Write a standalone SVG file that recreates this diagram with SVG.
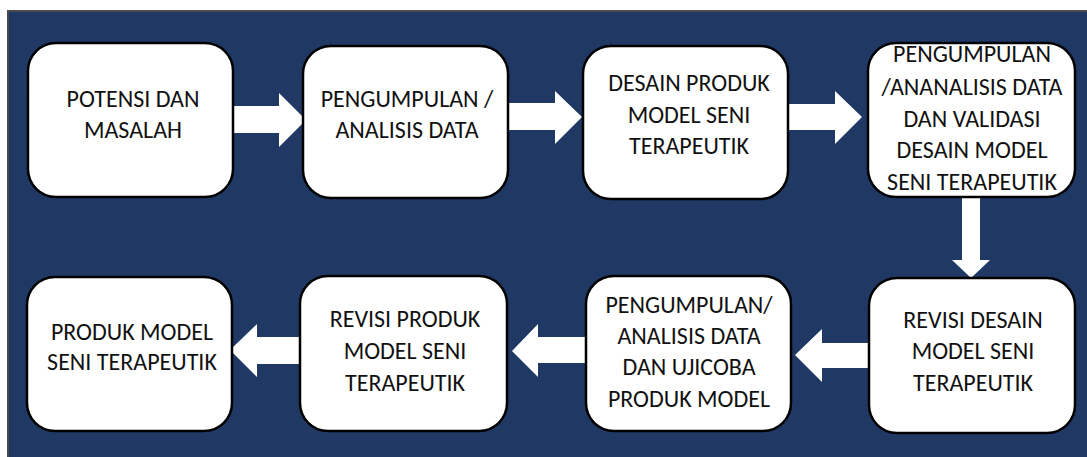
<svg xmlns="http://www.w3.org/2000/svg" width="1087" height="457" viewBox="0 0 1087 457">
<style>
.box{fill:#ffffff;stroke:#000000;stroke-width:2.5}
.arr{fill:#ffffff}
.t{font-family:Carlito,Lato,"Liberation Sans",sans-serif;font-size:24px;fill:#111111;text-anchor:middle}
</style>
<rect x="0" y="0" width="1087" height="457" fill="#ffffff"/>
<rect x="8" y="11" width="1085" height="452" fill="#1f3864" stroke="#4a4a4a" stroke-width="2"/>
<g id="connectors">
<polygon class="arr" points="233,106 279,106 279,93 306,120 279,147 279,133 233,133"/>
<polygon class="arr" points="508,103 555,103 555,91 582,117 555,144 555,130 508,130"/>
<polygon class="arr" points="788,104 835,104 835,91 862,117 835,144 835,130 788,130"/>
<polygon class="arr" points="962,197 980,197 980,260 990,260 971,278 952,260 962,260"/>
<polygon class="arr" points="869,343 822,343 822,329 795,355 822,382 822,368 869,368"/>
<polygon class="arr" points="586,337 538,337 538,324 512,351 538,377 538,363 586,363"/>
<polygon class="arr" points="300,337 257,337 257,324 230,350 257,377 257,364 300,364"/>
</g>
<g id="n1">
<rect class="box" x="28" y="43" width="205" height="154" rx="28"/>
<text class="t" x="133" y="107">POTENSI DAN</text>
<text class="t" x="133" y="138">MASALAH</text>
</g>
<g id="n2">
<rect class="box" x="303" y="46" width="205" height="152" rx="28"/>
<text class="t" x="407" y="107">PENGUMPULAN /</text>
<text class="t" x="407" y="138">ANALISIS DATA</text>
</g>
<g id="n3">
<rect class="box" x="583" y="46" width="205" height="153" rx="28"/>
<text class="t" x="689" y="91">DESAIN PRODUK</text>
<text class="t" x="689" y="123">MODEL SENI</text>
<text class="t" x="689" y="154">TERAPEUTIK</text>
</g>
<g id="n4">
<rect class="box" x="868" y="43" width="207" height="154" rx="28"/>
<text class="t" x="972" y="62">PENGUMPULAN</text>
<text class="t" x="972" y="95">/ANANALISIS DATA</text>
<text class="t" x="972" y="127">DAN VALIDASI</text>
<text class="t" x="972" y="158">DESAIN MODEL</text>
<text class="t" x="972" y="190">SENI TERAPEUTIK</text>
</g>
<g id="n5">
<rect class="box" x="869" y="278" width="206" height="155" rx="28"/>
<text class="t" x="973" y="328">REVISI DESAIN</text>
<text class="t" x="973" y="359">MODEL SENI</text>
<text class="t" x="973" y="391">TERAPEUTIK</text>
</g>
<g id="n6">
<rect class="box" x="586" y="276" width="205" height="155" rx="28"/>
<text class="t" x="689" y="313">PENGUMPULAN/</text>
<text class="t" x="689" y="344">ANALISIS DATA</text>
<text class="t" x="689" y="375">DAN UJICOBA</text>
<text class="t" x="689" y="407">PRODUK MODEL</text>
</g>
<g id="n7">
<rect class="box" x="300" y="276" width="207" height="155" rx="28"/>
<text class="t" x="405" y="327">REVISI PRODUK</text>
<text class="t" x="405" y="359">MODEL SENI</text>
<text class="t" x="405" y="391">TERAPEUTIK</text>
</g>
<g id="n8">
<rect class="box" x="27" y="277" width="205" height="154" rx="28"/>
<text class="t" x="132" y="340">PRODUK MODEL</text>
<text class="t" x="132" y="370">SENI TERAPEUTIK</text>
</g>
</svg>
